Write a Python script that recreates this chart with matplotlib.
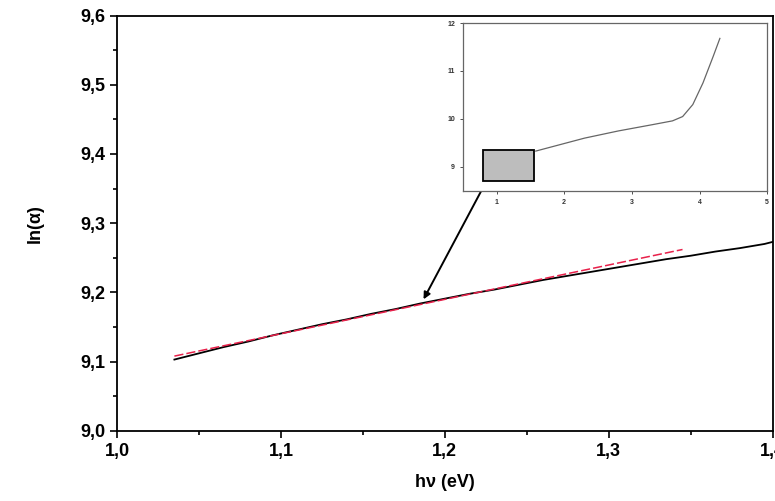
import numpy as np
import matplotlib.pyplot as plt
from matplotlib.ticker import MultipleLocator, FuncFormatter
from matplotlib.patches import Rectangle

plt.rcParams['font.family'] = ['Liberation Sans', 'DejaVu Sans']
plt.rcParams['font.weight'] = 'bold'

# measured ln(alpha) vs photon energy (main panel)
hv = [1.035, 1.05, 1.065, 1.08, 1.095, 1.11, 1.125, 1.14, 1.155, 1.17, 1.185,
      1.2, 1.215, 1.23, 1.245, 1.26, 1.275, 1.29, 1.305, 1.32, 1.335, 1.35,
      1.365, 1.38, 1.395, 1.4]
ln_alpha = [9.103, 9.112, 9.121, 9.129, 9.138, 9.146, 9.154, 9.161, 9.169, 9.176,
            9.184, 9.191, 9.198, 9.204, 9.211, 9.218, 9.224, 9.230, 9.236, 9.242,
            9.248, 9.253, 9.259, 9.264, 9.270, 9.273]

# linear fit (red dashed)
fit_x = [1.035, 1.345]
fit_y = [9.108, 9.262]

# inset: full curve
in_x = [1.58, 1.9, 2.3, 2.8, 3.3, 3.6, 3.75, 3.9, 4.05, 4.2, 4.3]
in_y = [9.33, 9.45, 9.6, 9.75, 9.88, 9.96, 10.05, 10.3, 10.75, 11.3, 11.68]
in_xticks = [1, 2, 3, 4, 5]
in_yticks = [9, 10, 11, 12]

comma = FuncFormatter(lambda v, p: f"{v:.1f}".replace('.', ','))

fig = plt.figure(figsize=(7.75, 5.01), dpi=100)
ax = fig.add_axes([0.151, 0.140, 0.846, 0.829])

ax.plot(hv, ln_alpha, color='black', lw=1.3)
ax.plot(fit_x, fit_y, color='#e8204a', lw=1.1, ls=(0, (6, 2)))

ax.set_xlim(1.0, 1.4)
ax.set_ylim(9.0, 9.6)
ax.xaxis.set_major_locator(MultipleLocator(0.1))
ax.xaxis.set_minor_locator(MultipleLocator(0.05))
ax.yaxis.set_major_locator(MultipleLocator(0.1))
ax.yaxis.set_minor_locator(MultipleLocator(0.05))
ax.xaxis.set_major_formatter(comma)
ax.yaxis.set_major_formatter(comma)
ax.tick_params(which='both', direction='out', width=1.2, labelsize=13)
ax.tick_params(which='major', length=5)
ax.tick_params(which='minor', length=3)
for s in ax.spines.values():
    s.set_linewidth(1.3)
ax.set_xlabel('hν (eV)', fontsize=13, fontweight='bold', labelpad=10)
ax.set_ylabel('ln(α)', fontsize=13, fontweight='bold', labelpad=26)

# inset
axin = fig.add_axes([0.597, 0.619, 0.393, 0.335])
axin.plot(in_x, in_y, color='#666666', lw=0.9)
axin.plot([1.05, 1.2], [9.14, 9.16], color='#444444', lw=0.8)
axin.add_patch(Rectangle((0.8, 8.7), 0.75, 0.65, facecolor='#bdbdbd',
                         edgecolor='black', lw=1.3, zorder=3))
axin.set_xlim(0.5, 5.0)
axin.set_ylim(8.5, 12.0)
axin.set_xticks(in_xticks)
axin.set_yticks(in_yticks)
axin.tick_params(labelsize=5, length=2, width=0.6, colors='#333333')
for s in axin.spines.values():
    s.set_linewidth(0.9)
    s.set_color('#666666')

# arrow from zoom box to main curve
ax.annotate('', xy=(1.187, 9.19), xycoords='data',
            xytext=(0.85, 8.7), textcoords=axin.transData,
            arrowprops=dict(arrowstyle='-|>', color='black', lw=1.4,
                            mutation_scale=10, shrinkA=0, shrinkB=0))

fig.savefig('out.png', dpi=100)
